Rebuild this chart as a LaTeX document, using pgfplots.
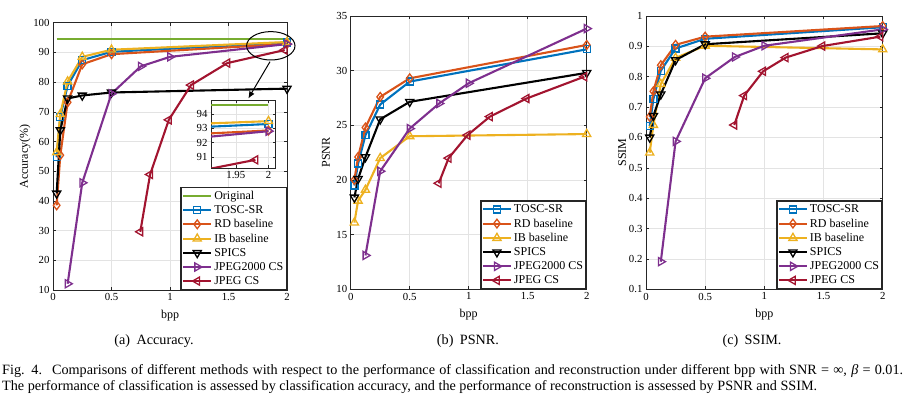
\documentclass[border=0pt]{standalone}
\usepackage{pgfplots}
\pgfplotsset{compat=1.18}
\usepackage{pgfplotstable}
\usepackage{fontspec}
\setmainfont{Liberation Serif}
\usetikzlibrary{arrows.meta}

\definecolor{mblue}{rgb}{0,0.447,0.741}
\definecolor{morange}{rgb}{0.850,0.325,0.098}
\definecolor{myellow}{rgb}{0.929,0.694,0.125}
\definecolor{mpurple}{rgb}{0.494,0.184,0.556}
\definecolor{mgreen}{rgb}{0.466,0.674,0.188}
\definecolor{mred}{rgb}{0.635,0.078,0.184}

\pgfplotstableread{
x acc
0.03125 94.6
2 94.6
}\orig
\pgfplotstableread{
x acc psnr ssim
0.03125 54.7 19.5 0.638
0.0625 68.3 21.5 0.727
0.125 78.8 24.1 0.820
0.25 87.4 26.9 0.893
0.5 90.2 29.0 0.925
2 93.3 31.95 0.963
}\tosc
\pgfplotstableread{
x acc psnr ssim
0.03125 38.5 20.0 0.668
0.0625 55.4 22.1 0.752
0.125 73.2 24.8 0.838
0.25 86.0 27.6 0.905
0.5 89.4 29.3 0.932
2 92.85 32.35 0.967
}\rd
\pgfplotstableread{
x acc psnr ssim
0.03125 56.3 16.1 0.550
0.0625 69.2 18.1 0.641
0.125 80.2 19.1 0.776
0.25 88.5 22.0 0.862
0.5 90.9 24.0 0.902
2 93.5 24.2 0.890
}\ib
\pgfplotstableread{
x acc psnr ssim
0.03125 42.5 18.4 0.600
0.0625 63.8 20.1 0.671
0.125 74.5 22.1 0.742
0.25 75.5 25.55 0.855
0.5 76.5 27.15 0.907
2 77.8 29.8 0.943
}\spics
\pgfplotstableread{
x acc psnr ssim
0.125 12.1 13.1 0.191
0.25 46.1 20.8 0.587
0.5 76.1 24.7 0.795
0.75 85.3 27.0 0.865
1 88.5 28.85 0.902
2 92.8 33.85 0.956
}\jtwok
\pgfplotstableread{
x acc psnr ssim
0.746 29.6 19.7 0.641
0.83 48.9 22.0 0.738
0.99 67.3 24.1 0.818
1.18 79.0 25.8 0.863
1.49 86.4 27.45 0.901
1.98 90.8 29.45 0.932
}\jpeg

\pgfplotsset{
 sOR/.style={line width=2.1pt, color=mgreen, no marks},
 sTOSC/.style={line width=2.1pt, color=mblue, mark=square, mark size=3.5pt, mark options={solid, line width=1.3pt}},
 sRD/.style={line width=2.1pt, color=morange, mark=diamond, mark size=4.4pt, mark options={solid, line width=1.3pt}},
 sIB/.style={line width=2.1pt, color=myellow, mark=triangle, mark size=4.7pt, mark options={solid, line width=1.3pt}},
 sSP/.style={line width=2.1pt, color=black, mark=triangle, mark size=4.7pt, mark options={solid, line width=1.3pt, rotate=180}},
 sJ2/.style={line width=2.1pt, color=mpurple, mark=triangle, mark size=4.7pt, mark options={solid, line width=1.3pt, rotate=-90}},
 sJ/.style={line width=2.1pt, color=mred, mark=triangle, mark size=4.7pt, mark options={solid, line width=1.3pt, rotate=90}},
 base/.style={
  scale only axis,
  anchor=south west,
  xmin=0, xmax=2, xtick={0,0.5,1,1.5,2},
  grid=major, major grid style={gray!22, line width=0.6pt},
  axis line style={black!85, line width=0.8pt},
  tick style={black!85, line width=0.6pt},
  tick align=inside, major tick length=3pt,
  ticklabel style={font=\fontsize{10.8}{12}\selectfont},
  /pgf/number format/assume math mode=true,
  scaled ticks=false,
  label style={font=\fontsize{12}{14}\selectfont},
  xlabel={bpp},
  xlabel style={at={(axis description cs:0.5,-0.094)}, anchor=center},
  legend style={at={(1,0)}, anchor=south east, draw=black!85, line width=1.4pt,
    font=\fontsize{12}{13}\selectfont, cells={anchor=west}, inner xsep=1pt, inner ysep=1.5pt, row sep=0.6pt},
  legend image code/.code={\draw[mark repeat=2,mark phase=2,##1] plot coordinates {(0pt,0pt)(14pt,0pt)(28pt,0pt)};},
 },
}

\begin{document}
\begin{tikzpicture}
\useasboundingbox (0,0) rectangle (905pt,397pt);

% (a) Accuracy
\begin{axis}[base, at={(53pt,107pt)}, width=234pt, height=267.3pt,
  ymin=10, ymax=100, ytick={10,20,...,100},
  ylabel={Accuracy(\%)},
  ylabel style={at={(axis description cs:-0.1197,0.5)}, anchor=center}]
\addplot[sOR] table[x=x,y=acc]{\orig}; \addlegendentry{Original}
\addplot[sTOSC] table[x=x,y=acc]{\tosc}; \addlegendentry{TOSC-SR}
\addplot[sRD] table[x=x,y=acc]{\rd}; \addlegendentry{RD baseline}
\addplot[sIB] table[x=x,y=acc]{\ib}; \addlegendentry{IB baseline}
\addplot[sSP] table[x=x,y=acc]{\spics}; \addlegendentry{SPICS}
\addplot[sJ2] table[x=x,y=acc]{\jtwok}; \addlegendentry{JPEG2000 CS}
\addplot[sJ] table[x=x,y=acc]{\jpeg}; \addlegendentry{JPEG CS}
\end{axis}

% inset
\begin{axis}[scale only axis, anchor=south west, at={(211pt,229pt)}, width=64pt, height=67.3pt,
  xmin=1.912, xmax=2.010, ymin=90.23, ymax=94.93,
  xtick={1.95,2}, ytick={91,92,93,94},
  grid=major, major grid style={gray!22, line width=0.6pt},
  axis line style={black!85, line width=0.8pt},
  tick style={black!85, line width=0.6pt},
  tick align=inside, major tick length=2.5pt,
  ticklabel style={font=\fontsize{10.8}{12}\selectfont},
  /pgf/number format/assume math mode=true,
  /pgf/number format/precision=2,
  scaled ticks=false,
  axis background/.style={fill=white}]
\addplot[sOR] table[x=x,y=acc]{\orig};
\addplot[sTOSC] table[x=x,y=acc]{\tosc};
\addplot[sRD] table[x=x,y=acc]{\rd};
\addplot[sIB] table[x=x,y=acc]{\ib};
\addplot[sSP] table[x=x,y=acc]{\spics};
\addplot[sJ2] table[x=x,y=acc]{\jtwok};
\addplot[sJ] table[x=x,y=acc]{\jpeg};
\end{axis}

\draw[black, line width=1pt] (270.8pt,351.2pt) ellipse [x radius=24.2pt, y radius=14.2pt];
\draw[black, line width=1pt, -{Latex[length=7pt,width=6pt]}] (270pt,335.3pt) -- (248.3pt,298.5pt);

% (b) PSNR
\begin{axis}[base, at={(350.7pt,107.7pt)}, width=236pt, height=273.3pt,
  ymin=10, ymax=35, ytick={10,15,...,35},
  ylabel={PSNR},
  ylabel style={at={(axis description cs:-0.1047,0.5)}, anchor=center}]
\addplot[sTOSC] table[x=x,y=psnr]{\tosc}; \addlegendentry{TOSC-SR}
\addplot[sRD] table[x=x,y=psnr]{\rd}; \addlegendentry{RD baseline}
\addplot[sIB] table[x=x,y=psnr]{\ib}; \addlegendentry{IB baseline}
\addplot[sSP] table[x=x,y=psnr]{\spics}; \addlegendentry{SPICS}
\addplot[sJ2] table[x=x,y=psnr]{\jtwok}; \addlegendentry{JPEG2000 CS}
\addplot[sJ] table[x=x,y=psnr]{\jpeg}; \addlegendentry{JPEG CS}
\end{axis}

% (c) SSIM
\begin{axis}[base, at={(646pt,107.7pt)}, width=236.7pt, height=273.3pt,
  ymin=0.1, ymax=1, ytick={0.1,0.2,0.3,0.4,0.5,0.6,0.7,0.8,0.9,1},
  yticklabel style={/pgf/number format/fixed},
  ylabel={SSIM},
  ylabel style={at={(axis description cs:-0.101,0.5)}, anchor=center}]
\addplot[sTOSC] table[x=x,y=ssim]{\tosc}; \addlegendentry{TOSC-SR}
\addplot[sRD] table[x=x,y=ssim]{\rd}; \addlegendentry{RD baseline}
\addplot[sIB] table[x=x,y=ssim]{\ib}; \addlegendentry{IB baseline}
\addplot[sSP] table[x=x,y=ssim]{\spics}; \addlegendentry{SPICS}
\addplot[sJ2] table[x=x,y=ssim]{\jtwok}; \addlegendentry{JPEG2000 CS}
\addplot[sJ] table[x=x,y=ssim]{\jpeg}; \addlegendentry{JPEG CS}
\end{axis}

% sub-captions
\node[font=\fontsize{14.2}{16}\selectfont, anchor=base] at (154pt,53pt) {(a)\hspace{0.45em}Accuracy.};
\node[font=\fontsize{14.2}{16}\selectfont, anchor=base] at (468pt,53pt) {(b)\hspace{0.45em}PSNR.};
\node[font=\fontsize{14.2}{16}\selectfont, anchor=base] at (752pt,53pt) {(c)\hspace{0.45em}SSIM.};

% caption
\node[font=\fontsize{14.2}{16}\selectfont, anchor=base west, inner sep=0pt] at (2pt,22.5pt)
 {\hbox to 901pt{Fig. 4.\hspace{0.7em}Comparisons of different methods with respect to the performance of classification and reconstruction under different bpp with SNR = ∞, \textit{β} = 0.01.}};
\node[font=\fontsize{14.2}{16}\selectfont, anchor=base west, inner sep=0pt] at (2pt,6.5pt)
 {The performance of classification is assessed by classification accuracy, and the performance of reconstruction is assessed by PSNR and SSIM.};
\end{tikzpicture}
\end{document}
